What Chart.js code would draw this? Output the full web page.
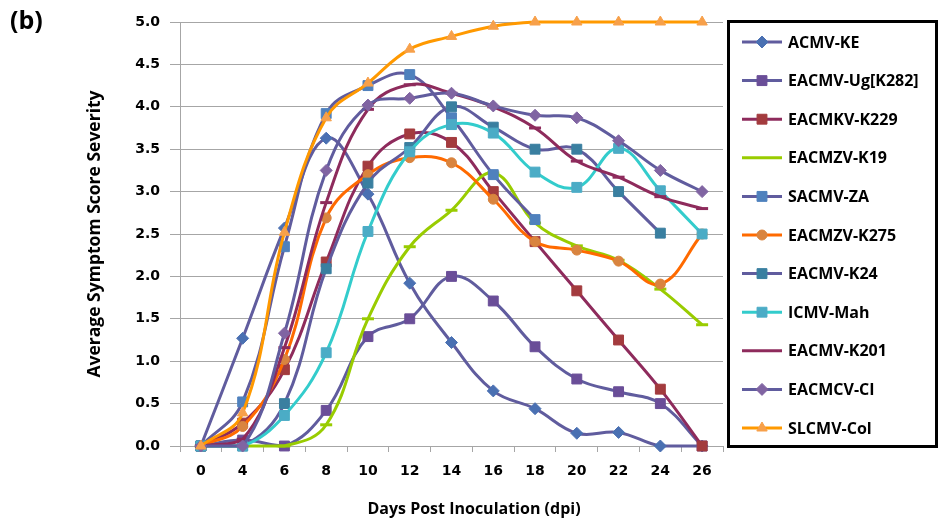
<!DOCTYPE html>
<html><head><meta charset="utf-8">
<script src="https://cdn.jsdelivr.net/npm/chart.js@4.4.1/dist/chart.umd.min.js"></script>
<style>html,body{margin:0;padding:0;background:#fff;}#wrap{width:939px;height:528px;position:relative;}</style>
</head><body><div id="wrap"><canvas id="c"></canvas></div>
<script>
// ---- data ----
const days = ['0','4','6','8','10','12','14','16','18','20','22','24','26'];
const yTicks = [0,0.5,1,1.5,2,2.5,3,3.5,4,4.5,5];
const seriesNames = ['ACMV-KE','EACMV-Ug[K282]','EACMKV-K229','EACMZV-K19','SACMV-ZA','EACMZV-K275','EACMV-K24','ICMV-Mah','EACMV-K201','EACMCV-CI','SLCMV-Col'];
const acmvKE     = [0,1.27,2.57,3.63,2.97,1.92,1.22,0.65,0.44,0.15,0.16,0,0];
const eacmvUg    = [0,0.07,0,0.42,1.29,1.5,2.0,1.71,1.17,0.79,0.64,0.5,0];
const eacmkvK229 = [0,0.27,0.9,2.17,3.3,3.68,3.58,3.0,2.41,1.83,1.25,0.67,0];
const eacmzvK19  = [0,0,0,0.25,1.5,2.35,2.78,3.22,2.63,2.36,2.19,1.85,1.43];
const sacmvZA    = [0,0.52,2.35,3.92,4.25,4.38,3.87,3.2,2.67,null,null,null,null];
const eacmzvK275 = [0,0.23,1.02,2.69,3.2,3.4,3.34,2.91,2.41,2.31,2.18,1.91,2.5];
const eacmvK24   = [0,0,0.5,2.09,3.1,3.52,4.0,3.76,3.5,3.5,3.0,2.51,null];
const icmvMah    = [0,0,0.36,1.1,2.53,3.47,3.79,3.69,3.23,3.05,3.51,3.01,2.5];
const eacmvK201  = [0,0.08,1.16,2.87,3.97,4.26,4.16,4.0,3.75,3.36,3.17,2.94,2.8];
const eacmcvCI   = [0,0,1.33,3.25,4.02,4.1,4.16,4.01,3.9,3.87,3.6,3.25,3.0];
const slcmvCol   = [0,0.39,2.52,3.87,4.28,4.68,4.83,4.95,5,5,5,5,5];
const seriesValues = [acmvKE,eacmvUg,eacmkvK229,eacmzvK19,sacmvZA,eacmzvK275,eacmvK24,icmvMah,eacmvK201,eacmcvCI,slcmvCol];

// ---- styles ----
const slate = '#605C9E', maroon = '#8E2B5C';
const styles = [
  {line:slate,  mark:'#4A70B2', shape:'rectRot',  r:6},
  {line:slate,  mark:'#6A4E98', shape:'rect',     r:7},
  {line:maroon, mark:'#A33B3E', shape:'rect',     r:7},
  {line:'#99CC00', mark:'#99CC00', shape:'line',  r:6},
  {line:slate,  mark:'#4F81BD', shape:'rect',     r:7},
  {line:'#FF6A00', mark:'#D9843F', shape:'circle', r:5},
  {line:slate,  mark:'#3A7FA0', shape:'rect',     r:7},
  {line:'#33CCCC', mark:'#4BACC6', shape:'rect',  r:7},
  {line:maroon, mark:maroon, shape:'line',        r:6},
  {line:slate,  mark:'#8064A2', shape:'rectRot',  r:6},
  {line:'#FF9900', mark:'#F7A04A', shape:'triangle', r:6}
];

const datasets = seriesNames.map((n,i)=>({
  label:n, data:seriesValues[i],
  borderColor:styles[i].line, borderWidth:3,
  pointStyle:styles[i].shape, pointRadius:styles[i].r, pointHoverRadius:styles[i].r,
  pointBackgroundColor:styles[i].mark, pointBorderColor:styles[i].shape==='line'?styles[i].line:styles[i].mark,
  pointBorderWidth:styles[i].shape==='line'?3:1,
  tension:0.4, fill:false, clip:false, spanGaps:false,
  order: seriesNames.length - i
}));

function drawMarker(ctx, st, x, y){
  const r = st.r;
  ctx.save();
  ctx.fillStyle = st.mark; ctx.strokeStyle = st.mark; ctx.lineWidth = 1;
  ctx.beginPath();
  if (st.shape==='rect'){ const s=r*Math.SQRT1_2; ctx.rect(x-s,y-s,2*s,2*s); }
  else if (st.shape==='rectRot'){ ctx.moveTo(x,y-r);ctx.lineTo(x+r,y);ctx.lineTo(x,y+r);ctx.lineTo(x-r,y);ctx.closePath(); }
  else if (st.shape==='circle'){ ctx.arc(x,y,r,0,Math.PI*2); }
  else if (st.shape==='triangle'){ ctx.moveTo(x,y-r);ctx.lineTo(x+r*0.866,y+r*0.5);ctx.lineTo(x-r*0.866,y+r*0.5);ctx.closePath(); }
  else { ctx.restore(); return; }
  ctx.fill(); ctx.stroke(); ctx.restore();
}

const decor = {
  id:'decor',
  afterDraw(chart){
    const ctx = chart.ctx;
    ctx.save();
    ctx.fillStyle = '#000';
    ctx.textBaseline = 'middle';
    ctx.textAlign = 'left';
    ctx.font = 'bold 25px "Open Sans"';
    ctx.fillText('(b)', 10, 22);
    ctx.textAlign = 'center';
    ctx.font = 'bold 16px "Open Sans"';
    ctx.fillText('Days Post Inoculation (dpi)', 474, 509);
    // legend
    ctx.lineWidth = 3; ctx.strokeStyle = '#000';
    ctx.strokeRect(728.5, 21.5, 208, 425);
    ctx.textAlign = 'left';
    ctx.font = 'bold 16px "Open Sans"';
    seriesNames.forEach((n,i)=>{
      const y = 42 + i*38.6;
      const st = styles[i];
      ctx.save();
      ctx.strokeStyle = st.line; ctx.lineWidth = 3;
      ctx.beginPath(); ctx.moveTo(742,y); ctx.lineTo(782,y); ctx.stroke();
      ctx.restore();
      drawMarker(ctx, st, 762, y);
      ctx.fillStyle = '#000';
      ctx.fillText(n, 788, y+1);
    });
    ctx.restore();
  }
};

new Chart(document.getElementById('c'), {
  type:'line',
  data:{labels:days, datasets},
  options:{
    responsive:true, maintainAspectRatio:false, animation:false,
    layout:{padding:{top:22,right:216,bottom:0,left:0}},
    plugins:{legend:{display:false}, tooltip:{enabled:false}},
    scales:{
      x:{
        type:'category', offset:true,
        afterFit:s=>{s.height=82;},
        grid:{offset:true, drawOnChartArea:false, drawTicks:true, tickLength:6, color:'#A6A6A6'},
        border:{color:'#A6A6A6', width:1},
        ticks:{color:'#000', font:{family:'"DejaVu Sans"', weight:'bold', size:14}, padding:11, maxRotation:0, autoSkip:false}
      },
      y:{
        min:0, max:5,
        afterFit:s=>{s.width=180;},
        afterBuildTicks:s=>{s.ticks = yTicks.map(v=>({value:v}));},
        grid:{color:'#A6A6A6', tickLength:10, drawTicks:true},
        border:{color:'#A6A6A6', width:1},
        ticks:{color:'#000', font:{family:'"DejaVu Sans"', weight:'bold', size:14}, padding:10, callback:v=>Number(v).toFixed(1)},
        title:{display:true, text:'Average Symptom Score Severity', color:'#000', font:{family:'"Open Sans"', weight:'bold', size:17.5}, padding:{top:85,bottom:0}}
      }
    }
  },
  plugins:[decor]
});
</script></body></html>
